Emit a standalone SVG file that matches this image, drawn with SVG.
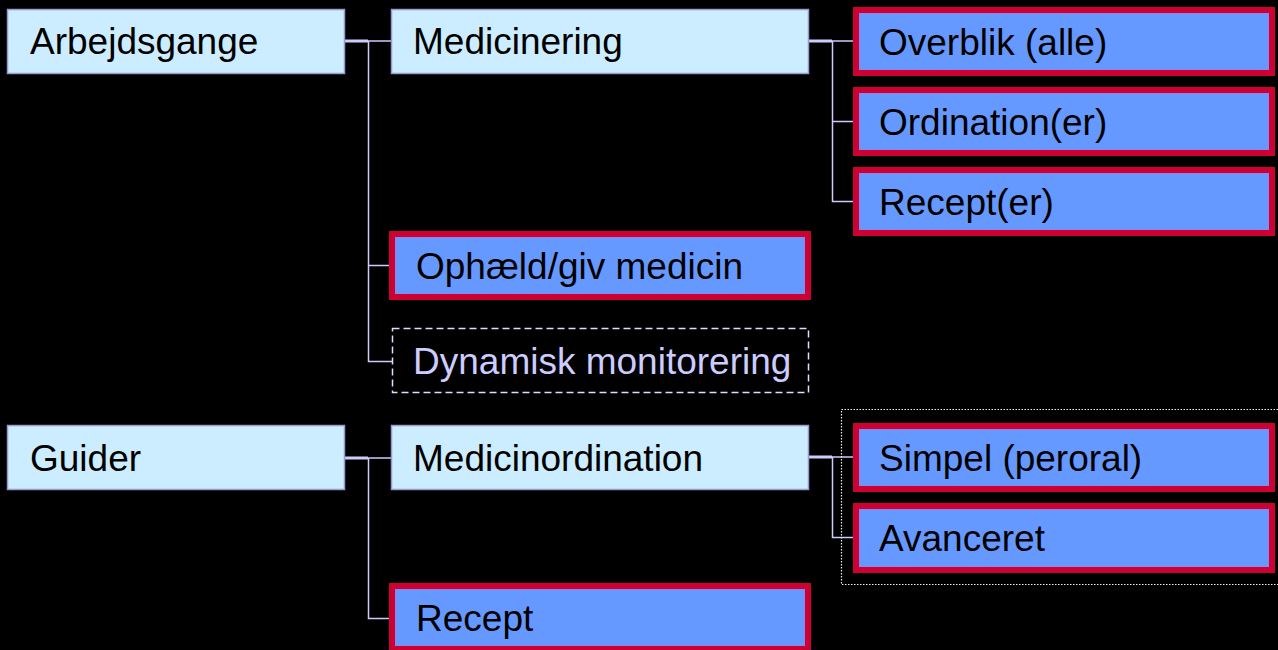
<svg xmlns="http://www.w3.org/2000/svg" width="1278" height="650" viewBox="0 0 1278 650">
<style>
.bg{fill:#000000}
.lt{fill:#CCECFF;stroke:#9999CC;stroke-width:1.5}
.rd{fill:#6699FF;stroke:#CC0033;stroke-width:6}
.in{fill:none;stroke:#8888EE;stroke-width:1}
.dash{fill:none;stroke:#DDDDFF;stroke-width:1.5;stroke-dasharray:7 4}
.dot{fill:none;stroke:#EEEEEE;stroke-width:1.2;stroke-dasharray:1.5 1.5}
.t{font-family:"Liberation Sans",Arial,sans-serif;font-size:37px;fill:#000000}
.tl{font-family:"Liberation Sans",Arial,sans-serif;font-size:37px;fill:#CCCCFF}
.c1{stroke:#CCCCFF;stroke-width:3;fill:none}
.c2{stroke:#CCCCFF;stroke-width:1.5;fill:none}
</style>
<rect class="bg" x="0" y="0" width="1278" height="650"/>
<g id="connectors">
<line class="c1" x1="345" y1="41" x2="368" y2="41"/>
<line class="c2" x1="368" y1="41" x2="391" y2="41"/>
<polyline class="c2" points="368.5,41 368.5,361.5 392,361.5"/>
<line class="c2" x1="368" y1="265.5" x2="389" y2="265.5"/>
<line class="c1" x1="809" y1="41" x2="832" y2="41"/>
<line class="c2" x1="832" y1="41" x2="853" y2="41"/>
<polyline class="c2" points="832.5,41 832.5,201.5 853,201.5"/>
<line class="c2" x1="832" y1="121.5" x2="853" y2="121.5"/>
<line class="c1" x1="345" y1="458" x2="368" y2="458"/>
<line class="c2" x1="368" y1="458" x2="392" y2="458"/>
<polyline class="c2" points="368.5,458 368.5,618.5 389,618.5"/>
<line class="c1" x1="809" y1="457" x2="832" y2="457"/>
<line class="c2" x1="832" y1="457" x2="853" y2="457"/>
<polyline class="c2" points="832.5,457 832.5,537.5 853,537.5"/>
</g>
<rect id="group-frame" class="dot" x="841.5" y="409.5" width="440" height="175"/>
<g id="arbejdsgange"><rect class="lt" x="7.5" y="9.5" width="337" height="64"/><text class="t" x="30" y="54">Arbejdsgange</text></g>
<g id="medicinering"><rect class="lt" x="391.5" y="9.5" width="417" height="64"/><text class="t" x="413" y="54">Medicinering</text></g>
<g id="overblik"><rect class="rd" x="856" y="10" width="416" height="63"/><rect class="in" x="859.5" y="13.5" width="409" height="56"/><text class="t" x="879" y="54.5">Overblik (alle)</text></g>
<g id="ordination"><rect class="rd" x="856" y="90" width="416" height="63"/><rect class="in" x="859.5" y="93.5" width="409" height="56"/><text class="t" x="879" y="134.5">Ordination(er)</text></g>
<g id="recepter"><rect class="rd" x="856" y="170" width="416" height="63"/><rect class="in" x="859.5" y="173.5" width="409" height="56"/><text class="t" x="879" y="214.5">Recept(er)</text></g>
<g id="ophaeld"><rect class="rd" x="392" y="234" width="416" height="63"/><rect class="in" x="395.5" y="237.5" width="409" height="56"/><text class="t" x="416" y="278.5">Ophæld/giv medicin</text></g>
<g id="dynamisk"><rect class="dash" x="392.5" y="328.5" width="416" height="64"/><text class="tl" x="413" y="374">Dynamisk monitorering</text></g>
<g id="guider"><rect class="lt" x="7.5" y="425.5" width="337" height="64"/><text class="t" x="30" y="470.5">Guider</text></g>
<g id="medicinordination"><rect class="lt" x="391.5" y="425.5" width="417" height="64"/><text class="t" x="413" y="470.5">Medicinordination</text></g>
<g id="simpel"><rect class="rd" x="856" y="426" width="416" height="63"/><rect class="in" x="859.5" y="429.5" width="409" height="56"/><text class="t" x="879" y="470.5">Simpel (peroral)</text></g>
<g id="avanceret"><rect class="rd" x="856" y="506" width="416" height="64"/><rect class="in" x="859.5" y="509.5" width="409" height="57"/><text class="t" x="879" y="551">Avanceret</text></g>
<g id="recept"><rect class="rd" x="392" y="586" width="416" height="63"/><rect class="in" x="395.5" y="589.5" width="409" height="56"/><text class="t" x="416" y="630.5">Recept</text></g>
</svg>
